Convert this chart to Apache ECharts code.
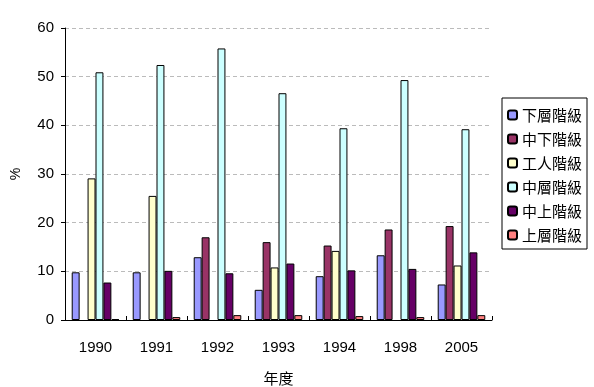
<!DOCTYPE html>
<html><head><meta charset="utf-8">
<script src="https://cdn.jsdelivr.net/npm/echarts@6/dist/echarts.min.js"></script>
<style>html,body{margin:0;padding:0;background:#fff}#c{width:594px;height:387px}</style>
</head><body><div id="c"></div>
<script>
const categories = ['1990','1991','1992','1993','1994','1998','2005'];
const seriesNames = ['下層階級','中下階級','工人階級','中層階級','中上階級','上層階級'];
const lower      = [9.8, 9.8, 12.9, 6.2, 9.0, 13.3, 7.3];
const lowerMid   = [null, null, 17.0, 16.0, 15.3, 18.6, 19.3];
const working    = [29.1, 25.5, null, 10.8, 14.2, null, 11.2];
const middle     = [50.9, 52.4, 55.8, 46.6, 39.4, 49.3, 39.2];
const upperMid   = [7.7, 10.1, 9.6, 11.6, 10.2, 10.5, 13.9];
const upper      = [0.2, 0.6, 1.0, 1.0, 0.8, 0.6, 1.0];
const yTicks = [0, 10, 20, 30, 40, 50, 60];

const colors = ['#9999FF','#993366','#FFFFCC','#CCFFFF','#660066','#FF8080'];
const values = [lower, lowerMid, working, middle, upperMid, upper];
const font = '"Liberation Sans", Arial, sans-serif';
const cjk = '"Noto Sans CJK TC", sans-serif';

const chart = echarts.init(document.getElementById('c'));
chart.setOption({
  animation: false,
  backgroundColor: '#fff',
  grid: {left: 65, right: 102, top: 28, bottom: 67, containLabel: false, outerBoundsMode: 'none'},
  legend: {
    orient: 'vertical', left: 502, top: 98,
    padding: [9, 5, 6, 5],
    borderColor: '#000', borderWidth: 1,
    itemWidth: 9, itemHeight: 9, itemGap: 8, itemTextGap: 9,
    textStyle: {fontFamily: cjk, fontSize: 15, color: '#000', lineHeight: 16},
    data: seriesNames
  },
  xAxis: {
    type: 'category', data: categories,
    name: '年度', nameLocation: 'middle', nameGap: 51,
    nameTextStyle: {fontFamily: cjk, fontSize: 15, color: '#000'},
    axisLine: {lineStyle: {color: '#000', width: 1}},
    axisTick: {show: true, inside: true, length: 4, lineStyle: {color: '#000'}},
    axisLabel: {fontFamily: font, fontSize: 15, color: '#000', margin: 20}
  },
  yAxis: {
    type: 'value', min: 0, max: 60, interval: 10,
    name: '%', nameLocation: 'middle', nameGap: 42, nameRotate: 90,
    nameTextStyle: {fontFamily: font, fontSize: 14, color: '#000'},
    axisLine: {show: true, lineStyle: {color: '#000', width: 1}},
    axisTick: {show: true, length: 4, lineStyle: {color: '#000'}},
    axisLabel: {fontFamily: font, fontSize: 15, color: '#000', margin: 11,
      formatter: v => yTicks.includes(v) ? String(v) : ''},
    splitLine: {show: true, lineStyle: {color: '#bbbbbb', type: [4, 3]}}
  },
  series: seriesNames.map((n, i) => ({
    name: n, type: 'bar', data: values[i],
    barGap: '0%', barCategoryGap: '22%',
    itemStyle: {color: colors[i], borderColor: '#000', borderWidth: 1}
  }))
});
</script></body></html>
